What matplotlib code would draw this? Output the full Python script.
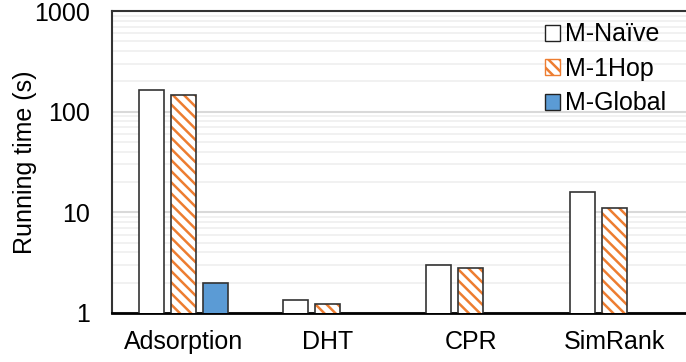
import matplotlib
matplotlib.use("Agg")
import matplotlib.pyplot as plt
import numpy as np
from matplotlib.patches import Patch
from matplotlib.ticker import LogLocator, NullFormatter, FixedLocator

plt.rcParams['font.family'] = ['Liberation Sans', 'DejaVu Sans']
plt.rcParams['hatch.linewidth'] = 1.8

categories = ["Adsorption", "DHT", "CPR", "SimRank"]
naive = [166, 1.34, 3.02, 16.0]
one_hop = [146, 1.24, 2.80, 11.0]
global_ = [2.0, None, None, None]
series_names = ["M-Naïve", "M-1Hop", "M-Global"]
yticks = [1, 10, 100, 1000]

orange = "#ED7D31"
blue = "#5B9BD5"
fs = 18

fig = plt.figure(figsize=(6.86, 3.62), dpi=100)
ax = fig.add_axes([0.1633, 0.1354, 0.8367, 0.8342])

x = np.arange(len(categories))
w = 0.174
off = 0.223

ax.set_yscale("log")
ax.set_ylim(1, 1000)
ax.set_xlim(-0.5, len(categories) - 0.5)

# grid: light minor lines, slightly stronger decade lines
ax.yaxis.set_minor_locator(LogLocator(base=10, subs=np.arange(2, 10)))
ax.yaxis.set_minor_formatter(NullFormatter())
ax.grid(True, which="minor", axis="y", color="#efefef", linewidth=1.2)
ax.grid(True, which="major", axis="y", color="#d9d9d9", linewidth=1.5)
ax.set_axisbelow(True)

ax.bar(x - off, naive, w, facecolor="white", edgecolor="#333333", linewidth=1.2, zorder=3)
ax.bar(x, one_hop, w, facecolor="white", edgecolor=orange, hatch="\\\\\\", linewidth=0, zorder=3)
ax.bar(x, one_hop, w, facecolor="none", edgecolor="#333333", linewidth=1.2, zorder=4)
gx = [xi + off for xi, v in zip(x, global_) if v is not None]
gv = [v for v in global_ if v is not None]
ax.bar(gx, gv, w, facecolor=blue, edgecolor="#333333", linewidth=1.2, zorder=3)

ax.yaxis.set_major_locator(FixedLocator(yticks))
ax.set_yticklabels([str(t) for t in yticks])
ax.set_xticks(x)
ax.set_xticklabels(categories)
ax.tick_params(axis="both", which="both", length=0, labelsize=fs, colors="black")
ax.tick_params(axis="x", pad=12)
ax.tick_params(axis="y", pad=16)
ax.set_ylabel("Running time (s)", fontsize=fs)
ax.yaxis.set_label_coords(-0.131, 0.5)

for s in ["left", "top"]:
    ax.spines[s].set_color("#333333")
    ax.spines[s].set_linewidth(1.5)
ax.spines["bottom"].set_color("black")
ax.spines["bottom"].set_linewidth(2)
ax.spines["right"].set_visible(False)

handles = [
    Patch(facecolor="white", edgecolor="#222222", linewidth=1.0),
    Patch(facecolor="white", edgecolor=orange, hatch="\\\\\\", linewidth=1.0),
    Patch(facecolor=blue, edgecolor="#222222", linewidth=1.0),
]
ax.legend(handles, series_names, loc="upper right", frameon=False, fontsize=fs,
          handlelength=0.6, handleheight=0.6, handletextpad=0.2, labelspacing=0.42,
          borderaxespad=0, borderpad=0, bbox_to_anchor=(0.965, 0.962))

fig.savefig("out.png", dpi=100)
